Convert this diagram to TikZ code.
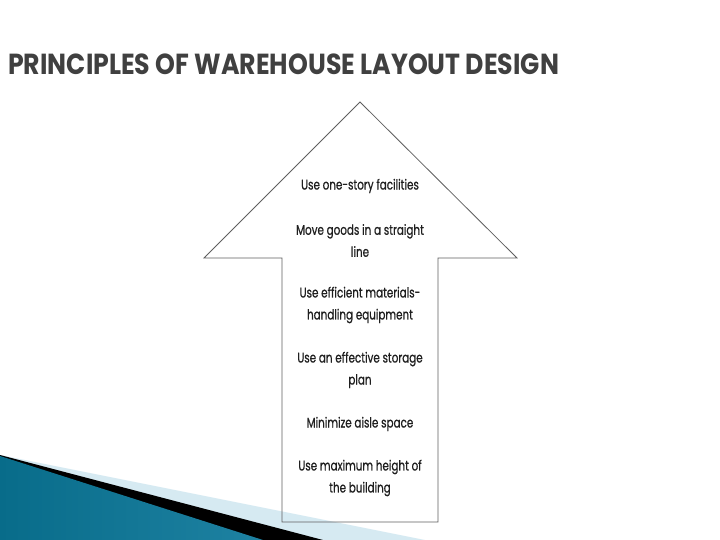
\documentclass[tikz,border=0pt]{standalone}
\usepackage{fontspec}
\setmainfont{Poppins}[FakeStretch=0.75]
\newfontfamily\titlefont{Poppins}[FakeStretch=0.87]
\newfontfamily\principlefont{Poppins}[FakeStretch=0.74, FakeBold=0.7]
\definecolor{titlegray}{RGB}{64,64,64}
\definecolor{arrowline}{RGB}{95,95,95}
\definecolor{paleblue}{RGB}{214,234,242}
\definecolor{tealdark}{RGB}{8,108,138}
\definecolor{teallight}{RGB}{78,178,212}
\definecolor{tealmid}{RGB}{30,130,162}
\tikzset{
    principle/.style={align=center, text=black!88, font=\principlefont\fontsize{14}{22}\selectfont},
}
\begin{document}
\begin{tikzpicture}[x=1pt, y=-1pt]
    \useasboundingbox (0,0) rectangle (720,540);
    \fill[white] (0,0) rectangle (720,540);

    % Corner decoration (bottom left)
    \fill[paleblue] (0,455) -- (425,540) -- (0,540) -- cycle;
    \fill[black] (0,455) -- (323,540) -- (0,540) -- cycle;
    \shade[left color=tealdark, middle color=teallight, right color=tealmid]
        (0,456) -- (263,540) -- (0,540) -- cycle;

    % Title
    \node[anchor=base west, inner sep=0pt, text=titlegray, font=\titlefont\bfseries\fontsize{29}{32}\selectfont]
        (title) at (8,75) {PRINCIPLES OF WAREHOUSE LAYOUT DESIGN};

    % Arrow outline
    \draw[arrowline, line width=0.8pt, line join=miter]
        (360,102) -- (517,258) -- (438,258) -- (438,522) -- (282,522)
        -- (282,258) -- (204,258) -- cycle;

    % Principles
    \node[principle] (onestory)  at (360,186)   {Use one-story facilities};
    \node[principle] (straight)  at (360,240.5) {Move goods in a straight\\line};
    \node[principle] (handling)  at (360,305)   {Use efficient materials-\\handling equipment};
    \node[principle] (storage)   at (360,370)   {Use an effective storage\\plan};
    \node[principle] (aisle)     at (360,424)   {Minimize aisle space};
    \node[principle] (height)    at (360,478)   {Use maximum height of\\the building};
\end{tikzpicture}
\end{document}
